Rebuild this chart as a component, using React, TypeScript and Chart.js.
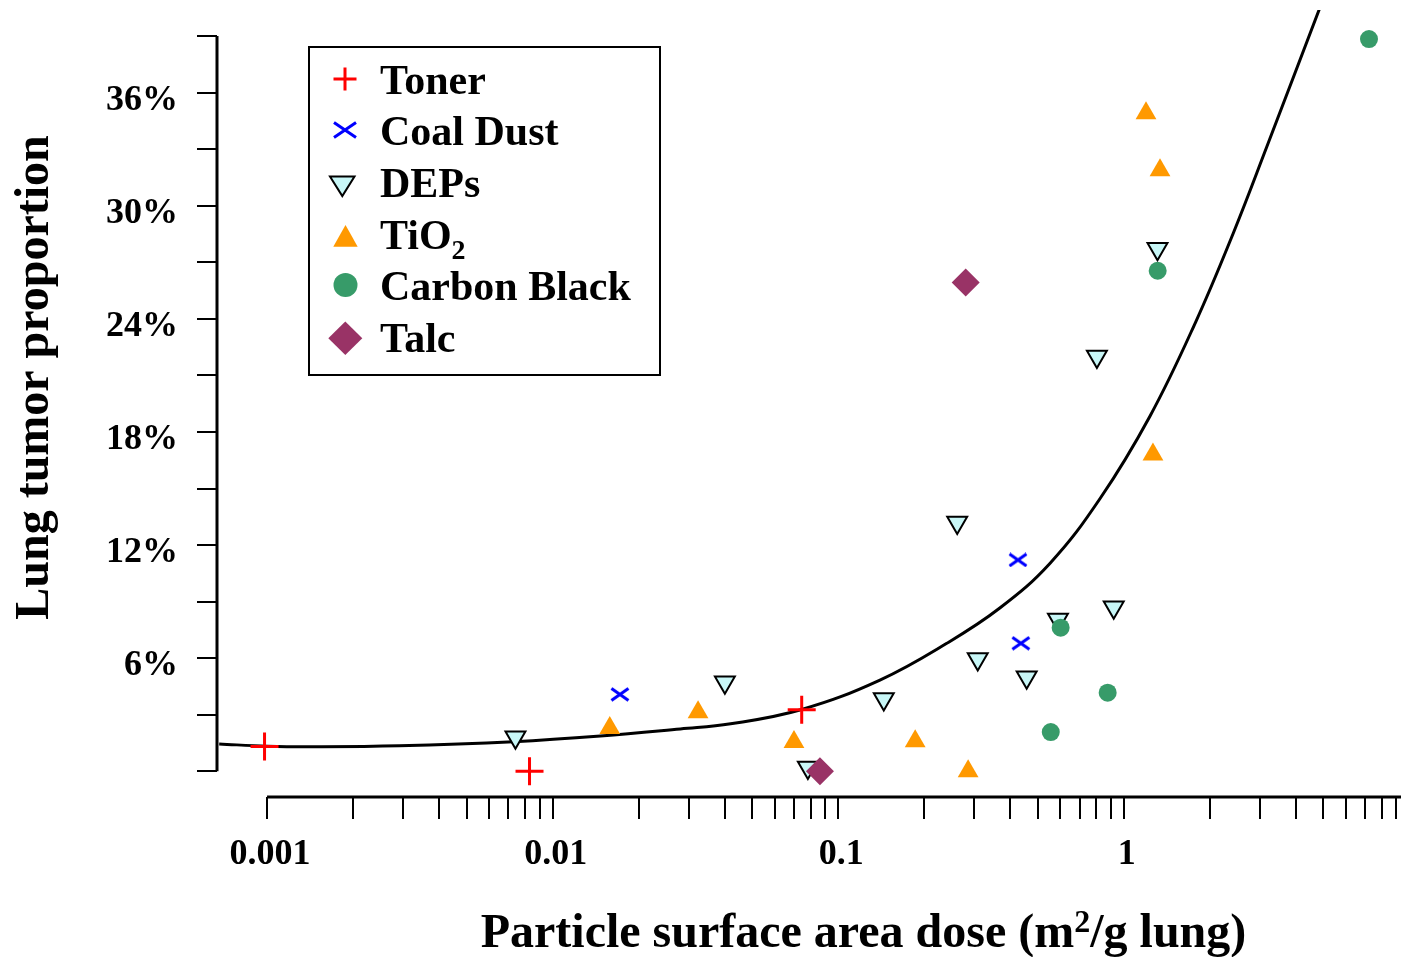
import React, { useEffect, useRef } from "react";
import { Chart, registerables } from "chart.js";

Chart.register(...registerables);

const FONT = '"Liberation Serif", "Times New Roman", Times, serif';

// ---- data (x: m^2/g lung, y: tumor proportion in %) ----
const seriesNames = ["Toner", "Coal Dust", "DEPs", "TiO2", "Carbon Black", "Talc"];

const tonerX = [0.00098, 0.0083, 0.0745];
const tonerY = [1.32, 0.0, 3.27];

const coalX = [0.0172, 0.426, 0.436];
const coalY = [4.08, 11.21, 6.79];

const depX = [0.00741, 0.0401, 0.0783, 0.1444, 0.308, 0.457, 0.588, 0.922, 0.261, 0.805, 1.312];
const depY = [1.81, 4.73, 0.2, 3.84, 5.95, 4.99, 8.05, 8.7, 13.2, 22.0, 27.71];

const tioX = [0.01585, 0.0323, 0.07, 0.186, 0.285, 1.265, 1.196, 1.339];
const tioY = [2.3, 3.13, 1.55, 1.59, 0.0, 16.8, 34.9, 31.88];

const cbX = [0.601, 0.878, 0.555, 1.314, 7.22];
const cbY = [7.62, 4.17, 2.08, 26.55, 38.84];

const talcX = [0.0863, 0.2795];
const talcY = [0.0, 25.92];

// fitted curve
const curveX = [0.00068, 0.001, 0.00145, 0.0029, 0.0073, 0.0147, 0.028, 0.042, 0.0745, 0.14, 0.24, 0.368, 0.552, 0.826, 1.236, 1.785, 2.417, 3.165, 4.826, 5.72];
const curveY = [1.45, 1.33, 1.3, 1.35, 1.57, 1.87, 2.25, 2.52, 3.28, 4.84, 6.79, 8.66, 11.04, 14.47, 18.85, 23.83, 28.54, 33.11, 40.38, 43.3];

// axes
const yTickValues = [0, 3, 6, 9, 12, 15, 18, 21, 24, 27, 30, 33, 36, 39];
const yLabelValues = [6, 12, 18, 24, 30, 36];
const xDecades = [0.001, 0.01, 0.1, 1];
const xMultipliers = [1, 2, 3, 4, 5, 6, 7, 8, 9];
const xLabelValues = [0.001, 0.01, 0.1, 1];
const xLabelTexts = ["0.001", "0.01", "0.1", "1"];

const X_MIN = 0.000668;
const X_MAX = 9.346;
const Y_MIN = -1.363;
const Y_MAX = 40.38;

const COLORS = {
  toner: "#ff0000",
  coal: "#0000ff",
  depFill: "#c8f7f7",
  tio: "#ff9900",
  cb: "#379b69",
  talc: "#993366",
};

const zip = (xs: number[], ys: number[]) => xs.map((x, i) => ({ x, y: ys[i] }));

function makeXMarker(w: number, h: number, lw: number, color: string) {
  const c = document.createElement("canvas");
  c.width = w;
  c.height = h;
  const g = c.getContext("2d")!;
  g.strokeStyle = color;
  g.lineWidth = lw;
  g.beginPath();
  g.moveTo(1.5, 1.5);
  g.lineTo(w - 1.5, h - 1.5);
  g.moveTo(w - 1.5, 1.5);
  g.lineTo(1.5, h - 1.5);
  g.stroke();
  return c;
}

const axesPlugin = {
  id: "rStyleAxes",
  beforeDatasetsDraw(chart: any) {
    const { ctx, chartArea } = chart;
    const xs = chart.scales.x;
    const ys = chart.scales.y;
    ctx.save();
    ctx.strokeStyle = "#000";
    ctx.fillStyle = "#000";

    // Y axis
    const ax = chartArea.left;
    ctx.lineWidth = 3;
    ctx.beginPath();
    ctx.moveTo(ax, ys.getPixelForValue(yTickValues[0]));
    ctx.lineTo(ax, ys.getPixelForValue(yTickValues[yTickValues.length - 1]));
    ctx.stroke();
    ctx.lineWidth = 2;
    for (const v of yTickValues) {
      const py = Math.round(ys.getPixelForValue(v));
      ctx.beginPath();
      ctx.moveTo(ax - 20, py);
      ctx.lineTo(ax, py);
      ctx.stroke();
    }
    ctx.font = `bold 36px ${FONT}`;
    ctx.textAlign = "right";
    ctx.textBaseline = "alphabetic";
    for (const v of yLabelValues) {
      const py = ys.getPixelForValue(v);
      ctx.fillText(`${v}%`, ax - 39, py + 17);
    }

    // X axis
    const ay = chartArea.bottom;
    const xTicks: number[] = [];
    for (const d of xDecades) for (const m of xMultipliers) xTicks.push(+(d * m).toPrecision(3));
    ctx.lineWidth = 3;
    ctx.beginPath();
    ctx.moveTo(xs.getPixelForValue(xTicks[0]), ay);
    ctx.lineTo(xs.getPixelForValue(10), ay);
    ctx.stroke();
    ctx.lineWidth = 2;
    for (const v of xTicks) {
      const px = Math.round(xs.getPixelForValue(v));
      ctx.beginPath();
      ctx.moveTo(px, ay);
      ctx.lineTo(px, ay + 22);
      ctx.stroke();
    }
    ctx.textAlign = "center";
    xLabelValues.forEach((v, i) => {
      ctx.fillText(xLabelTexts[i], xs.getPixelForValue(v) + 3, 864);
    });

    // Axis titles
    ctx.font = `bold 48px ${FONT}`;
    const partA = "Particle surface area dose (m";
    const partSup = "2";
    const partB = "/g lung)";
    ctx.textAlign = "left";
    const wA = ctx.measureText(partA).width;
    const wB = ctx.measureText(partB).width;
    ctx.font = `bold 32px ${FONT}`;
    const wS = ctx.measureText(partSup).width;
    const total = wA + wS + wB;
    let tx = 863.5 - total / 2;
    const tBase = 947;
    ctx.font = `bold 48px ${FONT}`;
    ctx.fillText(partA, tx, tBase);
    tx += wA;
    ctx.font = `bold 32px ${FONT}`;
    ctx.fillText(partSup, tx, tBase - 15);
    tx += wS;
    ctx.font = `bold 48px ${FONT}`;
    ctx.fillText(partB, tx, tBase);

    ctx.save();
    ctx.translate(48, 377.5);
    ctx.rotate(-Math.PI / 2);
    ctx.textAlign = "center";
    ctx.fillText("Lung tumor proportion", 0, 0);
    ctx.restore();

    ctx.restore();
  },
};

const legendPlugin = {
  id: "boxLegend",
  afterDraw(chart: any) {
    const { ctx } = chart;
    ctx.save();
    ctx.fillStyle = "#fff";
    ctx.fillRect(309, 47, 351, 328);
    ctx.strokeStyle = "#000";
    ctx.lineWidth = 2;
    ctx.strokeRect(309, 47, 351, 328);

    const rows = [79, 130, 182, 234, 285, 337];
    const mx = 345;

    ctx.strokeStyle = COLORS.toner;
    ctx.lineWidth = 3;
    ctx.beginPath();
    ctx.moveTo(mx - 11.5, rows[0]);
    ctx.lineTo(mx + 11.5, rows[0]);
    ctx.moveTo(mx, rows[0] - 11.5);
    ctx.lineTo(mx, rows[0] + 11.5);
    ctx.stroke();

    ctx.strokeStyle = COLORS.coal;
    ctx.beginPath();
    ctx.moveTo(mx - 11, rows[1] - 7.5);
    ctx.lineTo(mx + 11, rows[1] + 7.5);
    ctx.moveTo(mx + 11, rows[1] - 7.5);
    ctx.lineTo(mx - 11, rows[1] + 7.5);
    ctx.stroke();

    ctx.fillStyle = COLORS.depFill;
    ctx.strokeStyle = "#000";
    ctx.lineWidth = 2;
    ctx.beginPath();
    ctx.moveTo(330, rows[2] - 5.5);
    ctx.lineTo(354.5, rows[2] - 5.5);
    ctx.lineTo(342.3, rows[2] + 14);
    ctx.closePath();
    ctx.fill();
    ctx.stroke();

    ctx.fillStyle = COLORS.tio;
    ctx.beginPath();
    ctx.moveTo(345.5, rows[3] - 9);
    ctx.lineTo(357.7, rows[3] + 12.7);
    ctx.lineTo(333.3, rows[3] + 12.7);
    ctx.closePath();
    ctx.fill();

    ctx.fillStyle = COLORS.cb;
    ctx.beginPath();
    ctx.arc(345.5, rows[4], 12, 0, Math.PI * 2);
    ctx.fill();

    ctx.fillStyle = COLORS.talc;
    ctx.beginPath();
    ctx.moveTo(345.3 - 17, rows[5] + 1.3);
    ctx.lineTo(345.3, rows[5] + 1.3 - 16.7);
    ctx.lineTo(345.3 + 17, rows[5] + 1.3);
    ctx.lineTo(345.3, rows[5] + 1.3 + 16.7);
    ctx.closePath();
    ctx.fill();

    ctx.fillStyle = "#000";
    ctx.font = `bold 42px ${FONT}`;
    ctx.textAlign = "left";
    ctx.textBaseline = "alphabetic";
    const tx = 380;
    const base = (r: number) => r + 14.5;
    ctx.fillText(seriesNames[0], tx, base(rows[0]));
    ctx.fillText(seriesNames[1], tx, base(rows[1]));
    ctx.fillText(seriesNames[2], tx, base(rows[2]));
    const tiMain = "TiO";
    ctx.fillText(tiMain, tx, base(rows[3]));
    const w = ctx.measureText(tiMain).width;
    ctx.font = `bold 28px ${FONT}`;
    ctx.fillText("2", tx + w, base(rows[3]) + 10);
    ctx.font = `bold 42px ${FONT}`;
    ctx.fillText(seriesNames[4], tx, base(rows[4]));
    ctx.fillText(seriesNames[5], tx, base(rows[5]));
    ctx.restore();
  },
};

export default function App() {
  const ref = useRef<HTMLCanvasElement | null>(null);

  useEffect(() => {
    if (!ref.current) return;
    const coalMarker = makeXMarker(20, 15, 3, COLORS.coal);
    const chart = new Chart(ref.current, {
      type: "scatter",
      data: {
        datasets: [
          {
            label: seriesNames[5],
            data: zip(talcX, talcY),
            pointStyle: "rectRot",
            pointRadius: 14,
            backgroundColor: COLORS.talc,
            borderWidth: 0,
            order: 0,
          },
          {
            label: seriesNames[4],
            data: zip(cbX, cbY),
            pointStyle: "circle",
            pointRadius: 9,
            backgroundColor: COLORS.cb,
            borderWidth: 0,
            order: 1,
          },
          {
            label: seriesNames[3],
            data: zip(tioX, tioY),
            pointStyle: "triangle",
            pointRadius: 12,
            backgroundColor: COLORS.tio,
            borderWidth: 0,
            order: 2,
          },
          {
            label: seriesNames[2],
            data: zip(depX, depY),
            pointStyle: "triangle",
            rotation: 180,
            pointRadius: 11.5,
            backgroundColor: COLORS.depFill,
            borderColor: "#000",
            borderWidth: 2,
            order: 3,
          },
          {
            label: seriesNames[1],
            data: zip(coalX, coalY),
            pointStyle: coalMarker as any,
            pointRadius: 10,
            borderWidth: 0,
            order: 4,
          },
          {
            label: seriesNames[0],
            data: zip(tonerX, tonerY),
            pointStyle: "cross",
            pointRadius: 14,
            borderColor: COLORS.toner,
            borderWidth: 3,
            order: 5,
          },
          {
            label: "fit",
            data: zip(curveX, curveY),
            showLine: true,
            pointRadius: 0,
            borderColor: "#000",
            borderWidth: 3,
            tension: 0.4,
            fill: false,
            order: 6,
          } as any,
        ],
      },
      options: {
        animation: false,
        responsive: false,
        devicePixelRatio: 1,
        events: [],
        layout: { autoPadding: false, padding: { left: 217, right: 0, top: 10, bottom: 160 } },
        plugins: {
          legend: { display: false },
          tooltip: { enabled: false },
        },
        scales: {
          x: { type: "logarithmic", min: X_MIN, max: X_MAX, display: false },
          y: { type: "linear", min: Y_MIN, max: Y_MAX, display: false },
        },
      },
      plugins: [axesPlugin, legendPlugin],
    });
    return () => chart.destroy();
  }, []);

  return (
    <div style={{ position: "absolute", left: 0, top: 0, width: 1401, height: 957, background: "#fff" }}>
      <canvas ref={ref} width={1401} height={957} style={{ display: "block" }} />
    </div>
  );
}
